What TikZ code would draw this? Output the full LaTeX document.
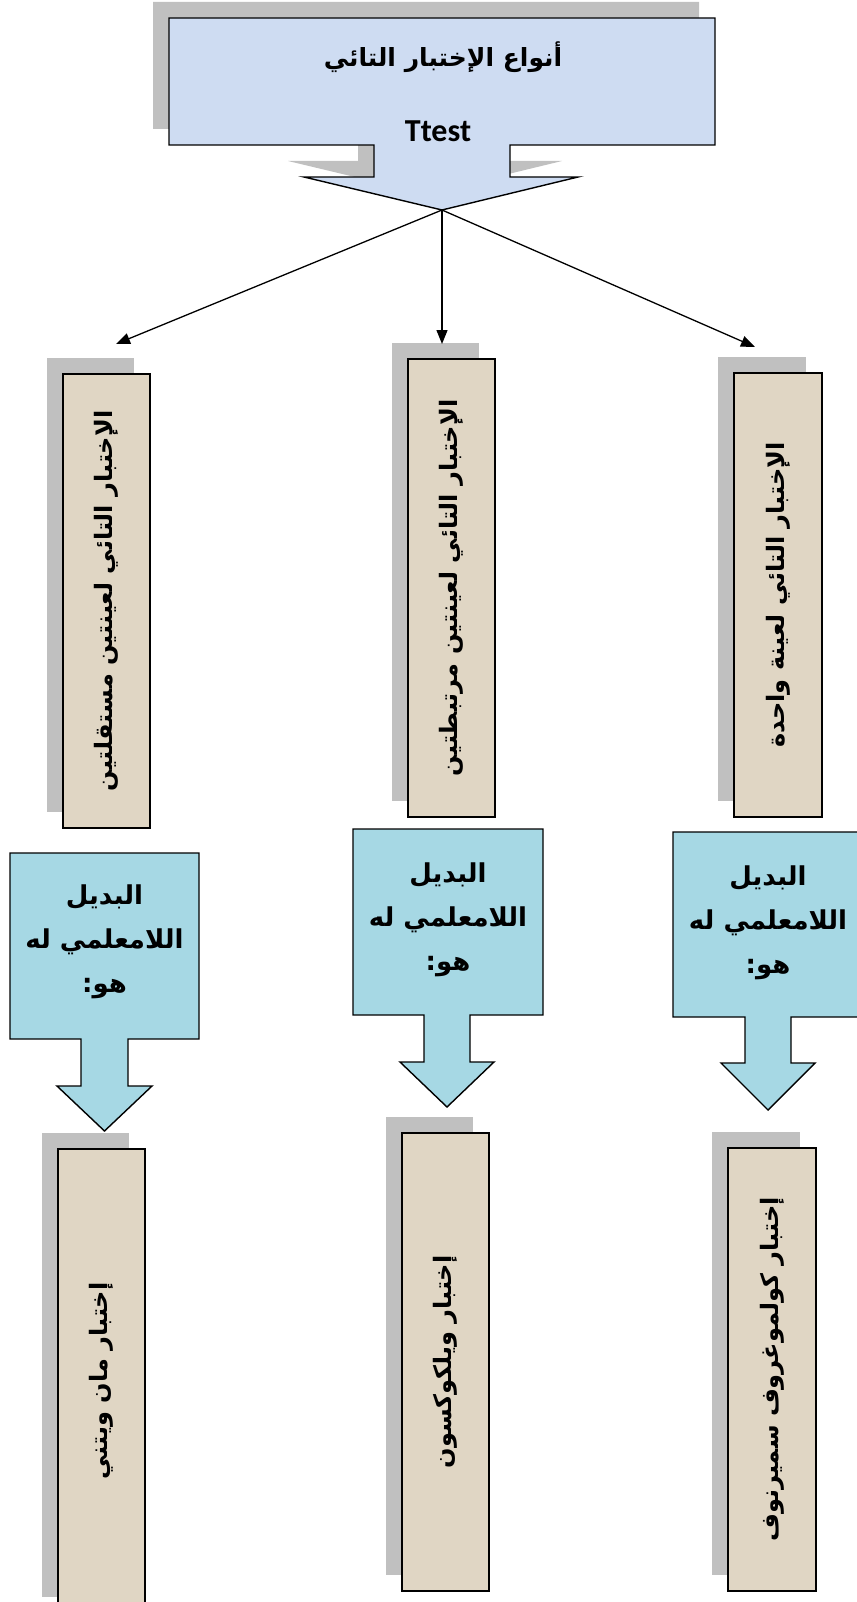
\documentclass[tikz,border=0pt]{standalone}
\usepackage{fontspec}
\TeXXeTstate=1
\newfontfamily\arabicfont[Script=Arabic]{DejaVu Sans}
\newfontfamily\latinfont{Carlito}
\usetikzlibrary{arrows.meta,shadows}
\definecolor{shadowgray}{RGB}{192,192,192}
\definecolor{topfill}{RGB}{206,220,242}
\definecolor{linen}{RGB}{224,214,196}
\definecolor{aqua}{RGB}{166,216,228}
\newcommand{\vlabel}[1]{\rotatebox{90}{\arabicfont\bfseries\fontsize{24}{28}\selectfont\beginR #1\endR}}
\begin{document}
\begin{tikzpicture}[x=1pt,y=-1pt,
  shadowed/.style={general shadow={fill=shadowgray, shadow xshift=-16pt, shadow yshift=16pt}},
  border/.style={draw=black, line width=1.4pt, line join=miter},
  vbox/.style={border, fill=linen, shadowed, rectangle, inner sep=0pt},
  callout/.style={border, fill=aqua},
  topshape/.style={border, fill=topfill, shadowed},
  link/.style={line width=1.3pt, -{Triangle[length=14pt,width=11pt]}},
  ctext/.style={font=\arabicfont\bfseries\fontsize{26}{44}\selectfont, align=center, inner sep=0pt},
]
\useasboundingbox (0,0) rectangle (856,1602);

% top shape
\path[topshape] (169,18) -- (715,18) -- (715,145) -- (510,145) -- (510,177) -- (578,177)
  -- (442,210) -- (304,177) -- (374,177) -- (374,145) -- (169,145) -- cycle;
\coordinate (toptip) at (442,210);
\node[font=\arabicfont\bfseries\fontsize{25}{28}\selectfont, inner sep=0pt] (title) at (443,57) {\beginR أنواع الإختبار التائي\endR};
\node[font=\latinfont\bfseries\fontsize{32}{36}\selectfont, inner sep=0pt] (ttest) at (438,131) {Ttest};

% vertical boxes
\node[vbox, minimum width=87pt, minimum height=454pt] (v1) at (106.5,601)
  {\vlabel{الإختبار التائي لعينتين مستقلتين}};
\node[vbox, minimum width=87pt, minimum height=458pt] (v2) at (451.5,588)
  {\vlabel{الإختبار التائي لعينتين مرتبطتين}};
\node[vbox, minimum width=88pt, minimum height=444pt] (v3) at (778,595)
  {\vlabel{الإختبار التائي لعينة واحدة}};

% connectors
\coordinate (e1) at (116,344);
\coordinate (e2) at (442,344);
\coordinate (e3) at (755,347);
\draw[link] (toptip) -- (e1);
\draw[link] (toptip) -- (e2);
\draw[link] (toptip) -- (e3);

% callouts
\path[callout] (10,853) -- (199,853) -- (199,1039) -- (128,1039) -- (128,1086) -- (152,1086)
  -- (104.5,1131) -- (57,1086) -- (81,1086) -- (81,1039) -- (10,1039) -- cycle;
\node[ctext] (c1) at (104.5,942) {\beginR البديل\endR\\\beginR اللامعلمي له\endR\\\beginR هو:\endR};

\path[callout] (353,829) -- (543,829) -- (543,1015) -- (470,1015) -- (470,1062) -- (494,1062)
  -- (447,1107) -- (400,1062) -- (424,1062) -- (424,1015) -- (353,1015) -- cycle;
\node[ctext] (c2) at (448,920) {\beginR البديل\endR\\\beginR اللامعلمي له\endR\\\beginR هو:\endR};

\path[callout] (673,832) -- (862,832) -- (862,1017) -- (791,1017) -- (791,1063) -- (815,1063)
  -- (768,1110) -- (721,1063) -- (745,1063) -- (745,1017) -- (673,1017) -- cycle;
\node[ctext] (c3) at (768,923) {\beginR البديل\endR\\\beginR اللامعلمي له\endR\\\beginR هو:\endR};

% bottom boxes
\node[vbox, minimum width=87pt, minimum height=464pt] (b1) at (101.5,1381)
  {\vlabel{إختبار مان ويتني}};
\node[vbox, minimum width=87pt, minimum height=458pt] (b2) at (445.5,1362)
  {\vlabel{إختبار ويلكوكسون}};
\node[vbox, minimum width=88pt, minimum height=443pt] (b3) at (772,1369.5)
  {\vlabel{إختبار كولموغروف سميرنوف}};
\end{tikzpicture}
\end{document}
